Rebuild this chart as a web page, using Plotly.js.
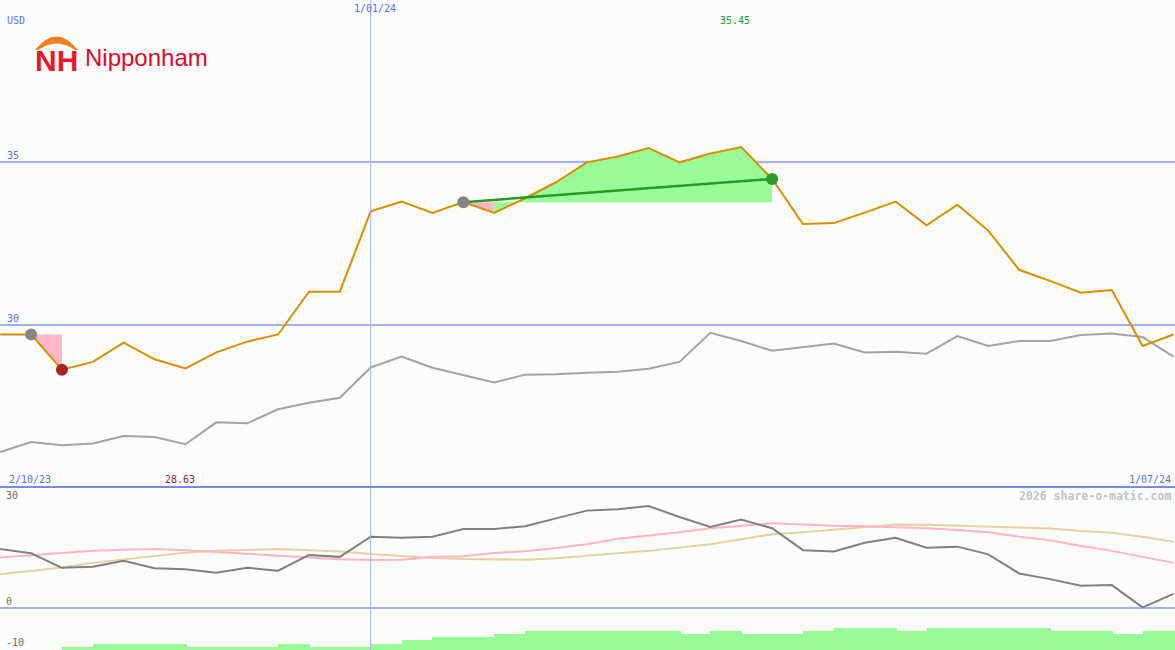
<!DOCTYPE html>
<html><head><meta charset="utf-8">
<script src="https://cdn.plot.ly/plotly-3.0.1.min.js"></script>
<style>html,body{margin:0;padding:0;background:#fbfdfb;}#chart{width:1175px;height:650px;}</style>
</head><body><div id="chart"></div>
<script>
// ---- data (weekly, Mondays) ----
const dates = ['2023-10-09','2023-10-16','2023-10-23','2023-10-30','2023-11-06','2023-11-13','2023-11-20','2023-11-27',
  '2023-12-04','2023-12-11','2023-12-18','2023-12-25','2024-01-01','2024-01-08','2024-01-15','2024-01-22','2024-01-29',
  '2024-02-05','2024-02-12','2024-02-19','2024-02-26','2024-03-04','2024-03-11','2024-03-18','2024-03-25','2024-04-01',
  '2024-04-08','2024-04-15','2024-04-22','2024-04-29','2024-05-06','2024-05-13','2024-05-20','2024-05-27','2024-06-03',
  '2024-06-10','2024-06-17','2024-06-24','2024-07-01'];
const price = [29.71,29.71,28.63,28.87,29.46,28.95,28.67,29.16,29.49,29.71,31.02,31.02,33.48,33.78,33.43,33.76,33.43,
  33.88,34.37,34.98,35.16,35.42,34.98,35.25,35.45,34.47,33.09,33.12,33.44,33.78,33.05,33.68,32.89,31.69,31.35,30.99,31.07,29.36,29.71];
const relative = [26.11,26.42,26.32,26.37,26.60,26.57,26.35,27.02,26.99,27.42,27.62,27.77,28.70,29.03,28.69,28.47,28.24,
  28.48,28.49,28.54,28.57,28.66,28.87,29.76,29.51,29.21,29.31,29.43,29.16,29.18,29.12,29.66,29.36,29.51,29.51,29.69,29.74,29.63,29.03];
const momentum = [16.6,15.4,11.3,11.6,13.3,11.2,10.9,9.9,11.3,10.5,14.9,14.4,20.1,19.8,20.1,22.3,22.3,23.1,25.3,27.5,27.9,28.8,
  25.7,22.9,25.0,22.5,16.3,15.9,18.4,19.8,17.0,17.3,15.1,9.7,8.1,6.2,6.4,0.1,3.9];
const avgFast = [14.2,14.9,15.6,16.1,16.4,16.6,16.3,15.8,15.2,14.7,14.2,13.7,13.5,13.6,14.4,14.6,15.5,16.0,16.9,18.0,19.5,20.4,
  21.4,22.5,23.1,23.9,23.6,23.2,23.1,22.9,22.5,22.0,21.4,20.1,19.1,17.5,16.1,14.4,12.7];
const avgSlow = [9.5,10.4,11.4,12.7,13.7,14.6,15.6,16.1,16.3,16.6,16.3,15.9,15.2,14.6,14.1,13.8,13.7,13.6,14.0,14.6,15.4,16.1,
  17.0,18.0,19.4,20.8,21.4,22.2,22.9,23.6,23.5,23.2,23.1,22.8,22.4,21.7,21.2,20.1,18.7];
const volume = [0,0,1,2,2,2,1,1,1,2,1,1,2,3,4,4,5,6,6,6,6,6,5,6,5,5,6,7,7,6,7,7,7,7,6,6,5,6,6];
const priceTicks = [30, 35];
const oscTicks = [30, 0, -10];
const dropStart = 1, dropLow = 2, gainStart = 15, gainEnd = 25;
const currency = 'USD';
const midDate = '2024-01-01', midLabel = '1/01/24';
const startLabel = '2/10/23', endLabel = '1/07/24';
const company = 'Nipponham', logoMark = 'NH';
const credit = '2026 share-o-matic.com';

// ---- derived ----
const W = 1175, H = 650;
const px = v => v / W, py = v => 1 - v / H;
const maxVal = Math.max(...price), minVal = Math.min(...price);
const weekMs = 7 * 24 * 3600 * 1000;

const mono = 'DejaVu Sans Mono, monospace';
const blue = '#5b6cf2';

const traces = [];
traces.push({x:[dates[dropStart],dates[dropLow],dates[dropLow]], y:[price[dropStart],price[dropLow],price[dropStart]],
  type:'scatter', mode:'lines', fill:'toself', fillcolor:'#ffb6c8', line:{width:0}, xaxis:'x', yaxis:'y', hoverinfo:'skip'});
traces.push({x:[dates[gainStart],dates[gainStart+1],dates[gainStart+1]], y:[price[gainStart],price[gainStart+1],price[gainStart]],
  type:'scatter', mode:'lines', fill:'toself', fillcolor:'#ffb6c8', line:{width:0}, xaxis:'x', yaxis:'y', hoverinfo:'skip'});
const gx = dates.slice(gainStart+1, gainEnd+1).concat([dates[gainEnd], dates[gainStart+1]]);
const gy = price.slice(gainStart+1, gainEnd+1).concat([price[gainStart], price[gainStart]]);
traces.push({x:gx, y:gy, type:'scatter', mode:'lines', fill:'toself', fillcolor:'#98fb98', line:{width:0}, xaxis:'x', yaxis:'y', hoverinfo:'skip'});
traces.push({x:dates, y:relative, type:'scatter', mode:'lines', line:{color:'#a3a3a3', width:2}, xaxis:'x', yaxis:'y'});
traces.push({x:dates, y:price, type:'scatter', mode:'lines', line:{color:'#d98e00', width:2}, xaxis:'x', yaxis:'y'});
traces.push({x:[dates[gainStart],dates[gainEnd]], y:[price[gainStart],price[gainEnd]], type:'scatter', mode:'lines',
  line:{color:'#259a25', width:2.5}, xaxis:'x', yaxis:'y'});
traces.push({x:[dates[dropStart],dates[gainStart]], y:[price[dropStart],price[gainStart]], type:'scatter', mode:'markers',
  marker:{color:'#858585', size:12}, xaxis:'x', yaxis:'y'});
traces.push({x:[dates[dropLow]], y:[price[dropLow]], type:'scatter', mode:'markers', marker:{color:'#a52424', size:12}, xaxis:'x', yaxis:'y'});
traces.push({x:[dates[gainEnd]], y:[price[gainEnd]], type:'scatter', mode:'markers', marker:{color:'#2a9a2a', size:12}, xaxis:'x', yaxis:'y'});
traces.push({x:dates, y:avgSlow, type:'scatter', mode:'lines', line:{color:'#e6d0a0', width:2}, xaxis:'x', yaxis:'y2'});
traces.push({x:dates, y:avgFast, type:'scatter', mode:'lines', line:{color:'#ffb3c8', width:2}, xaxis:'x', yaxis:'y2'});
traces.push({x:dates, y:momentum, type:'scatter', mode:'lines', line:{color:'#808080', width:2}, xaxis:'x', yaxis:'y2'});
traces.push({x:dates, y:volume, type:'bar', offset:0, width:weekMs*1.04, marker:{color:'#98fb98', line:{width:0}}, xaxis:'x', yaxis:'y3'});

const ann = [];
const txt = (text, x, y, color, size, opts={}) => Object.assign({text, x:px(x), y:py(y), xref:'paper', yref:'paper',
  showarrow:false, font:{family:mono, size, color}, xanchor:'center', yanchor:'middle', borderpad:0}, opts);
ann.push(txt(currency, 6, 21, blue, 10, {xanchor:'left'}));
ann.push(txt(midLabel, 375, 9, blue, 10));
ann.push(txt(maxVal.toFixed(2), 735, 21, '#259a25', 10));
priceTicks.forEach(t => ann.push({text:String(t), x:px(6), xref:'paper', y:t, yref:'y', yshift:6, showarrow:false,
  xanchor:'left', yanchor:'middle', font:{family:mono, size:10, color:blue}, borderpad:0}));
ann.push(txt(startLabel, 8, 479, blue, 10, {xanchor:'left'}));
ann.push(txt(minVal.toFixed(2), 180, 479, '#a52424', 10));
ann.push(txt(endLabel, 1172, 479, blue, 10, {xanchor:'right'}));
ann.push(txt(credit, 1172, 496, '#c4c4c4', 11.5, {xanchor:'right', font:{family:mono, size:11.5, color:'#c4c4c4', weight:'bold'}}));
oscTicks.forEach(t => ann.push({text:String(t), x:px(5), xref:'paper', y:t, yref:'y2', yshift: t === -10 ? 1 : 6, showarrow:false,
  xanchor:'left', yanchor:'middle', font:{family:mono, size:10, color:'#707070'}, borderpad:0}));
// logo
ann.push({text:company, x:px(84), y:py(58), xref:'paper', yref:'paper', showarrow:false, xanchor:'left', yanchor:'middle',
  font:{family:'Liberation Sans, Arial, sans-serif', size:24, color:'#e4062b'}, borderpad:0});
ann.push({text:'<b>'+logoMark+'</b>', x:px(56.5), y:py(60), xref:'paper', yref:'paper', showarrow:false, xanchor:'center', yanchor:'middle',
  font:{family:'Liberation Sans, Arial, sans-serif', size:30, color:'#e8182c'}, borderpad:0});

const P = (x, y) => px(x).toFixed(5) + ',' + py(y).toFixed(5);
const arc = 'M' + P(35,50) + ' Q' + P(56.5,23) + ' ' + P(78,50) + ' L' + P(75,50) + ' Q' + P(56.5,37) + ' ' + P(38,50) + ' Z';

const gridC = '#a4b0f2';
const shapes = [
  {type:'line', xref:'x', yref:'paper', x0:midDate, x1:midDate, y0:0, y1:1, line:{color:gridC, width:1}},
  {type:'line', xref:'paper', yref:'paper', x0:0, x1:1, y0:py(487), y1:py(487), line:{color:'#7a88ec', width:2}},
  {type:'path', xref:'paper', yref:'paper', path:arc, fillcolor:'#f0801e', line:{width:0}}
];

const layout = {
  width:W, height:H, margin:{l:0,r:0,t:0,b:0},
  paper_bgcolor:'#fbfdfb', plot_bgcolor:'rgba(0,0,0,0)',
  showlegend:false, hovermode:false, bargap:0,
  xaxis:{type:'date', range:['2023-10-08 23:00','2024-07-01 08:00'], showgrid:false, zeroline:false, showticklabels:false, ticks:'', showline:false, fixedrange:true},
  yaxis:{domain:[py(487),1], range:[25.04,39.95], tickvals:priceTicks, showticklabels:false, showgrid:true, gridcolor:gridC, gridwidth:2, zeroline:false, ticks:'', showline:false},
  yaxis2:{domain:[0,py(487)], range:[-11.98,34.19], tickvals:[0], showticklabels:false, showgrid:true, gridcolor:gridC, gridwidth:2, zeroline:false, ticks:'', showline:false},
  yaxis3:{overlaying:'y2', range:[0,51], visible:false, showgrid:false, zeroline:false},
  annotations:ann, shapes:shapes
};
Plotly.newPlot('chart', traces, layout, {staticPlot:true, displayModeBar:false});
</script>
</body></html>
